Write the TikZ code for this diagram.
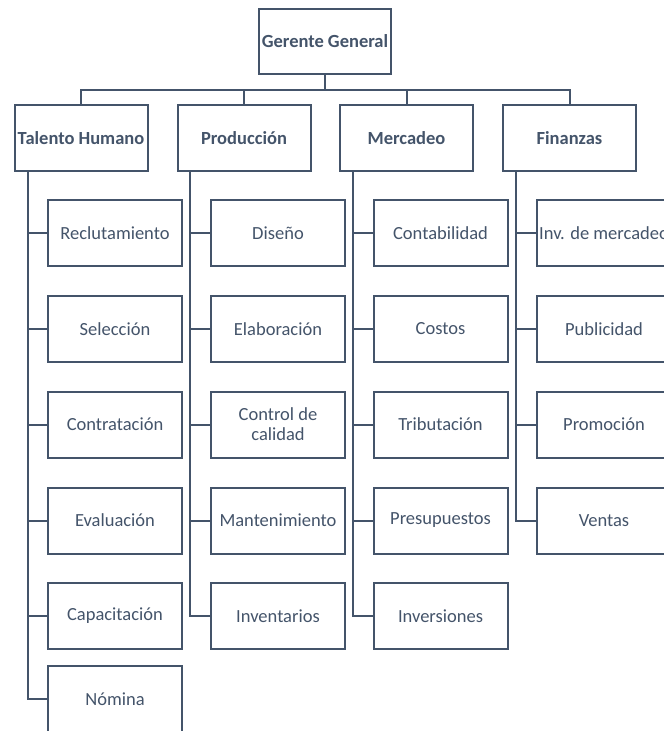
\documentclass[tikz,border=0pt]{standalone}
\usepackage{fontspec}
\setmainfont{Carlito}
\definecolor{slate}{HTML}{44546A}
\begin{document}
\begin{tikzpicture}[x=1pt,y=-1pt,
  box/.style={draw=slate,line width=2pt,fill=white,text=slate,inner sep=0pt,align=center,
    font=\fontsize{18.5}{20}\selectfont},
  topbox/.style={box,minimum width=132pt,minimum height=65pt,font=\fontsize{18.5}{20}\selectfont\bfseries},
  headbox/.style={box,minimum width=133pt,minimum height=66pt,font=\fontsize{18.5}{20}\selectfont\bfseries},
  subbox/.style={box,minimum width=134pt,minimum height=66pt},
  link/.style={draw=slate,line width=2pt}]
\useasboundingbox (0,0) rectangle (664,731);
\clip (0,0) rectangle (664,731);
% top
\node[topbox] (gg) at (325,41.5) {Gerente General};
% heads
\node[headbox] (th) at (81,138) {Talento Humano};
\node[headbox] (pr) at (244,138) {Producción};
\node[headbox] (me) at (406.5,138) {Mercadeo};
\node[headbox] (fi) at (569.5,138) {Finanzas};
\coordinate (bus) at (325,90);
\draw[link] (gg.south) -- (bus);
\draw[link] (th.north) |- (bus) -| (fi.north);
\draw[link] (pr.north) -- (pr.north |- bus);
\draw[link] (me.north) -- (me.north |- bus);
% Talento Humano children
\node[subbox] (th1) at (115,233) {Reclutamiento};
\node[subbox] (th2) at (115,329) {Selección};
\node[subbox] (th3) at (115,424.5) {Contratación};
\node[subbox] (th4) at (115,520.5) {Evaluación};
\node[subbox] (th5) at (115,616) {Capacitación};
\node[subbox] (th6) at (115,699) {Nómina};
% Produccion children
\node[subbox] (pr1) at (278,233) {Diseño};
\node[subbox] (pr2) at (278,329) {Elaboración};
\node[subbox] (pr3) at (278,424.5) {Control de\\calidad};
\node[subbox] (pr4) at (278,520.5) {Mantenimiento};
\node[subbox] (pr5) at (278,616) {Inventarios};
% Mercadeo children
\node[subbox] (me1) at (440.5,233) {Contabilidad};
\node[subbox] (me2) at (440.5,329) {Costos};
\node[subbox] (me3) at (440.5,424.5) {Tributación};
\node[subbox] (me4) at (440.5,520.5) {Presupuestos};
\node[subbox] (me5) at (440.5,616) {Inversiones};
% Finanzas children
\node[subbox] (fi1) at (604,233) {Inv. de mercadeo};
\node[subbox] (fi2) at (604,329) {Publicidad};
\node[subbox] (fi3) at (604,424.5) {Promoción};
\node[subbox] (fi4) at (604,520.5) {Ventas};
% trunks
\coordinate (t1) at ([xshift=14pt]th.south west);
\coordinate (t2) at ([xshift=13pt]pr.south west);
\coordinate (t3) at ([xshift=14pt]me.south west);
\coordinate (t4) at ([xshift=14pt]fi.south west);
\draw[link] (t1) |- (th6.west);
\foreach \c in {th1,th2,th3,th4,th5} \draw[link] (t1 |- \c.west) -- (\c.west);
\draw[link] (t2) |- (pr5.west);
\foreach \c in {pr1,pr2,pr3,pr4} \draw[link] (t2 |- \c.west) -- (\c.west);
\draw[link] (t3) |- (me5.west);
\foreach \c in {me1,me2,me3,me4} \draw[link] (t3 |- \c.west) -- (\c.west);
\draw[link] (t4) |- (fi4.west);
\foreach \c in {fi1,fi2,fi3} \draw[link] (t4 |- \c.west) -- (\c.west);
\end{tikzpicture}
\end{document}
